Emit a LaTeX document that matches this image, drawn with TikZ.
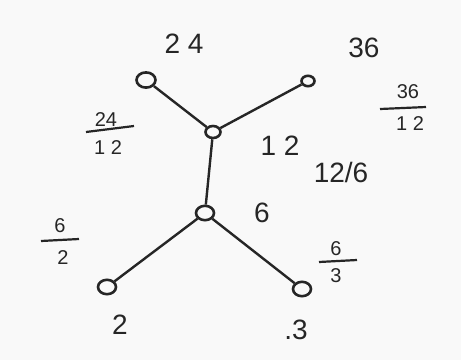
\documentclass[tikz,border=0pt]{standalone}
\usepackage{fontspec}
\setmainfont{Liberation Sans}
\usetikzlibrary{shapes.geometric}
\begin{document}
\begin{tikzpicture}[x=1pt,y=-1pt,
  vtx/.style={draw=black!85,line width=2.6pt,ellipse,inner sep=0pt,minimum width=#1,minimum height=0.8*#1},
  edge/.style={draw=black!85,line width=2.4pt},
  bar/.style={line width=2.2pt,draw=black!85},
  big/.style={font=\fontsize{28}{30}\selectfont,text=black!85,inner sep=0pt},
  frac/.style={font=\fontsize{20}{22}\selectfont,text=black!85,inner sep=0pt}]
\fill[white!95!gray] (0,0) rectangle (461,360);
\useasboundingbox (0,0) rectangle (461,360);
% nodes
\node[vtx=19pt] (a) at (146,80) {};
\node[vtx=13pt] (b) at (308,81) {};
\node[vtx=15pt] (c) at (213,132) {};
\node[vtx=18pt] (d) at (205,213) {};
\node[vtx=18pt] (e) at (107,287) {};
\node[vtx=18pt] (f) at (302,289) {};
% edges
\draw[edge] (a) -- (c);
\draw[edge] (b) -- (c);
\draw[edge] (c) -- (d);
\draw[edge] (d) -- (e);
\draw[edge] (d) -- (f);
% labels
\node[big] (l24) at (184,44) {2 4};
\node[big] (l36) at (364,48) {36};
\node[big] (l12) at (280,146) {1 2};
\node[big] (l126) at (341,172) {12/6};
\node[big] (l6) at (262,213) {6};
\node[big] (l2) at (120,325) {2};
\node[big] (l3) at (296,330) {.3};
% fractions
\node[frac] (f1n) at (106,120) {24};
\node[frac] (f1d) at (108,148) {1 2};
\draw[bar] (86,132) -- (134,126);
\node[frac] (f2n) at (408,92) {36};
\node[frac] (f2d) at (410,124) {1 2};
\draw[bar] (380,109) -- (426,107);
\node[frac] (f3n) at (60,226) {6};
\node[frac] (f3d) at (63,258) {2};
\draw[bar] (41,241) -- (79,239);
\node[frac] (f4n) at (336,249) {6};
\node[frac] (f4d) at (336,276) {3};
\draw[bar] (319,262) -- (357,260);
\end{tikzpicture}
\end{document}
